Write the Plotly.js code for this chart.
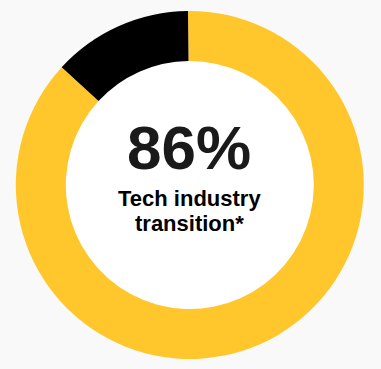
<!DOCTYPE html>
<html>
<head>
<meta charset="utf-8">
<script src="https://cdn.plot.ly/plotly-3.0.1.min.js"></script>
<style>html,body{margin:0;padding:0;background:#f9f9f9;}#chart{width:381px;height:369px;}</style>
</head>
<body>
<div id="chart"></div>
<script>
const labels = ["Tech industry transition", "Other"];
const values = [87, 13];
const colors = ["#FFC72C", "#000000"];
const centerValue = "86%";
const centerLabel = ["Tech industry", "transition*"];

const W = 381, H = 369;
const cx = 189.8, cy = 185, R = 174, r = 124;
const tx = 189;

const data = [{
  type: "pie",
  labels: labels,
  values: values,
  sort: false,
  direction: "clockwise",
  rotation: -0.6,
  hole: r / R,
  marker: {colors: colors, line: {width: 0}},
  textinfo: "none",
  hoverinfo: "none",
  showlegend: false,
  domain: {x: [(cx - R) / W, (cx + R) / W], y: [(H - cy - R) / H, (H - cy + R) / H]}
}];

const layout = {
  width: W, height: H,
  margin: {l: 0, r: 0, t: 0, b: 0},
  paper_bgcolor: "#f9f9f9",
  showlegend: false,
  shapes: [{
    type: "circle", xref: "paper", yref: "paper", layer: "below",
    x0: (cx - r - 1) / W, x1: (cx + r + 1) / W,
    y0: (H - cy - r - 1) / H, y1: (H - cy + r + 1) / H,
    fillcolor: "#ffffff", line: {width: 0}
  }],
  annotations: [
    {text: "<b>" + centerValue + "</b>", x: tx / W, y: (H - 147.5) / H, xref: "paper", yref: "paper",
     xanchor: "center", yanchor: "middle", showarrow: false,
     font: {family: "Liberation Sans, Arial, sans-serif", size: 62, color: "#1a1a1a"}},
    {text: "<b>" + centerLabel[0] + "</b>", x: tx / W, y: (H - 198) / H, xref: "paper", yref: "paper",
     xanchor: "center", yanchor: "middle", showarrow: false,
     font: {family: "Liberation Sans, Arial, sans-serif", size: 22, color: "#000000"}},
    {text: "<b>" + centerLabel[1] + "</b>", x: tx / W, y: (H - 223) / H, xref: "paper", yref: "paper",
     xanchor: "center", yanchor: "middle", showarrow: false,
     font: {family: "Liberation Sans, Arial, sans-serif", size: 22, color: "#000000"}}
  ]
};

Plotly.newPlot("chart", data, layout, {displayModeBar: false, staticPlot: true});
</script>
</body>
</html>
